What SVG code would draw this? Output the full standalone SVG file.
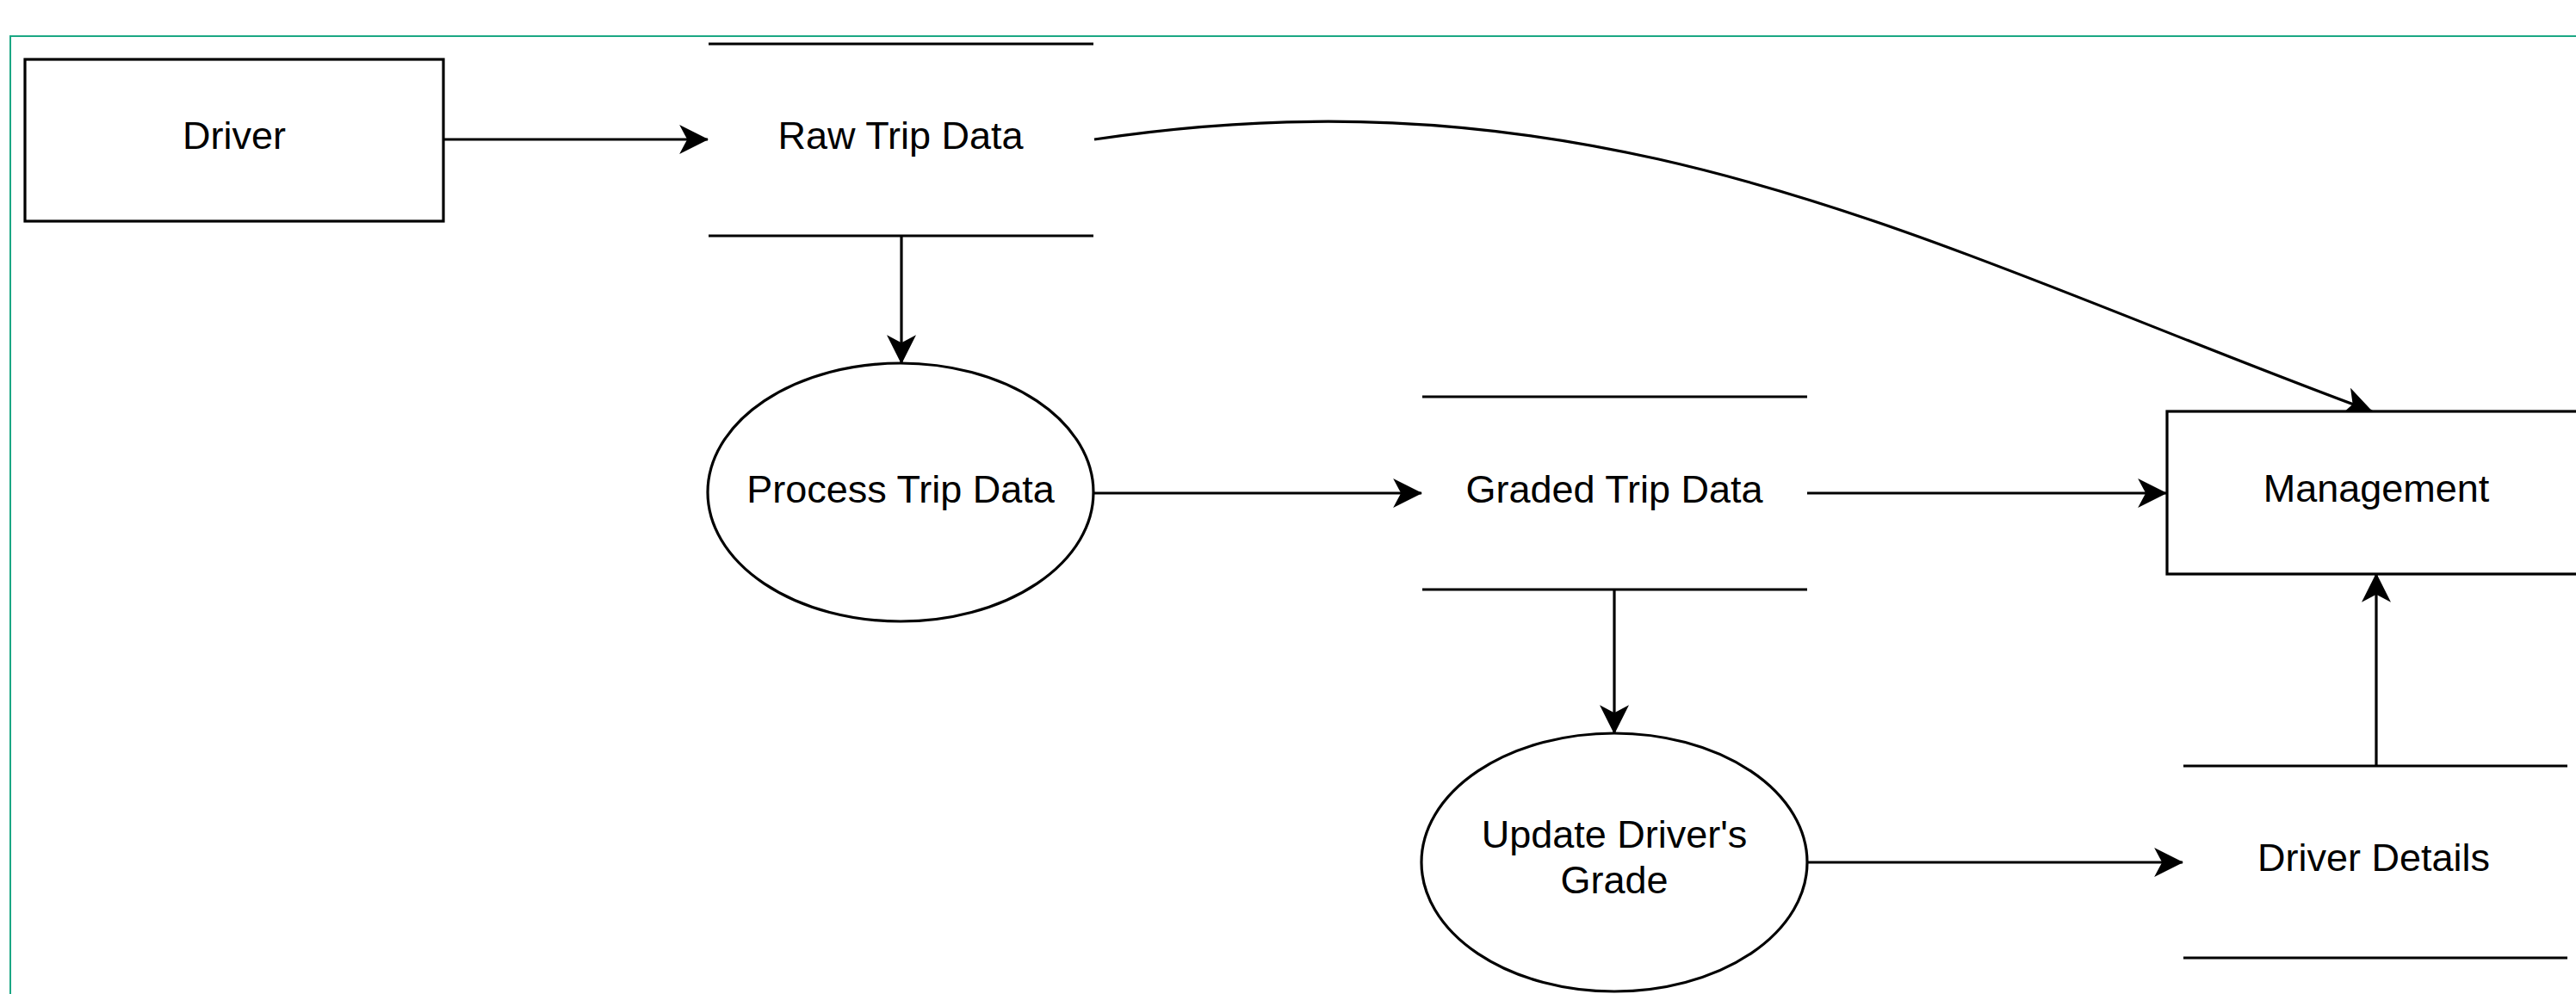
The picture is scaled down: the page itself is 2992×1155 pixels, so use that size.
<svg xmlns="http://www.w3.org/2000/svg" width="2992" height="1155" viewBox="0 0 2992 1155">
<defs>
<style>
.shape{fill:#fff;stroke:#000;stroke-width:3.2}
.store{stroke:#000;stroke-width:3.2;fill:none}
.edge{fill:none;stroke:#000;stroke-width:3.2;marker-end:url(#arrow)}
.lbl{font-family:"Liberation Sans",Arial,sans-serif;font-size:45px;fill:#000;text-anchor:middle}
</style>
<marker id="arrow" markerUnits="userSpaceOnUse" markerWidth="34" markerHeight="34" viewBox="0 0 30 30" refX="29" refY="15" orient="auto">
<path d="M0,0 L30,15 L0,30 L8,15 Z" fill="#000"/>
</marker>
</defs>
<rect width="2992" height="1155" fill="#fff"/>
<path d="M12,1160 V42 H3000" fill="none" stroke="#1ba784" stroke-width="2"/>

<g id="connectors">
<path class="edge" d="M515,162 H822"/>
<path class="edge" d="M1047,274 V422"/>
<path class="edge" d="M1271,162 C1871,72 2250,292 2755,478"/>
<path class="edge" d="M1270,573 H1651"/>
<path class="edge" d="M2099,573 H2516"/>
<path class="edge" d="M1875,685 V852"/>
<path class="edge" d="M2099,1002 H2535"/>
<path class="edge" d="M2760,890 V667"/>
</g>

<g id="driver">
<rect class="shape" x="29" y="69" width="486" height="188"/>
<text class="lbl" x="272" y="173">Driver</text>
</g>

<g id="raw-trip-data">
<line class="store" x1="823" y1="51" x2="1270" y2="51"/>
<line class="store" x1="823" y1="274" x2="1270" y2="274"/>
<text class="lbl" x="1046" y="173">Raw Trip Data</text>
</g>

<g id="process-trip-data">
<ellipse class="shape" cx="1046" cy="572" rx="224" ry="150"/>
<text class="lbl" x="1046" y="584">Process Trip Data</text>
</g>

<g id="graded-trip-data">
<line class="store" x1="1652" y1="461" x2="2099" y2="461"/>
<line class="store" x1="1652" y1="685" x2="2099" y2="685"/>
<text class="lbl" x="1875" y="584">Graded Trip Data</text>
</g>

<g id="management">
<rect class="shape" x="2517" y="478" width="486" height="189"/>
<text class="lbl" x="2760" y="583">Management</text>
</g>

<g id="update-drivers-grade">
<ellipse class="shape" cx="1875" cy="1002" rx="224" ry="150"/>
<text class="lbl" x="1875" y="985">Update Driver's</text>
<text class="lbl" x="1875" y="1038">Grade</text>
</g>

<g id="driver-details">
<line class="store" x1="2536" y1="890" x2="2982" y2="890"/>
<line class="store" x1="2536" y1="1113" x2="2982" y2="1113"/>
<text class="lbl" x="2757" y="1012">Driver Details</text>
</g>
</svg>
